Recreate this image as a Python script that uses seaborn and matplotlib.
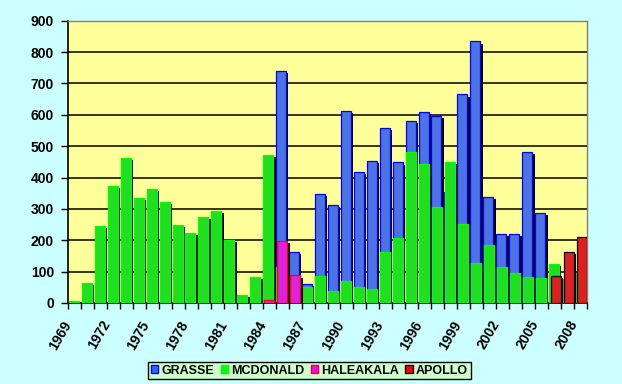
import numpy as np
import pandas as pd
import matplotlib
matplotlib.use("Agg")
import matplotlib.pyplot as plt
import matplotlib.patheffects as pe
from matplotlib.patches import Patch
import seaborn as sns

years = list(range(1969, 2009))
series_names = ["GRASSE", "MCDONALD", "HALEAKALA", "APOLLO"]

grasse = [None] * 15 + [291, 739, 162, 60, 347, 312, 612, 418, 453, 558, 448, 580,
                        609, 596, 354, 665, 834, 338, 220, 220, 481, 287, None, None, None]
mcdonald = [5, 63, 245, 373, 462, 335, 363, 322, 249, 223, 274, 293, 201, 25, 83,
            472, 116, 73, 51, 87, 38, 70, 51, 45, 163, 207, 481, 443, 306, 449,
            253, 127, 185, 115, 95, 83, 80, 124, 77, 95]
haleakala = [None] * 15 + [9, 198, 88] + [None] * 22
apollo = [None] * 37 + [86, 163, 210]

tick_years = list(range(1969, 2009, 3))

rows = []
for name, vals in zip(series_names, [grasse, mcdonald, haleakala, apollo]):
    for y, v in zip(years, vals):
        if v is not None:
            rows.append({"year": str(y), "series": name, "value": v})
df = pd.DataFrame(rows)

colors = {"GRASSE": "#3366FF", "MCDONALD": "#00FF00", "HALEAKALA": "#FF00FF", "APOLLO": "#FF0000"}
edges = {"GRASSE": "#0000FF", "MCDONALD": "#00FF00", "HALEAKALA": "#FF0000", "APOLLO": "#000000"}
shifts = {"GRASSE": -0.10, "MCDONALD": -0.06, "HALEAKALA": 0.02, "APOLLO": 0.08}

plt.rcParams["font.family"] = ["Liberation Sans", "DejaVu Sans"]
plt.rcParams["font.weight"] = "bold"

fig = plt.figure(figsize=(6.22, 3.84), dpi=100)
fig.patch.set_facecolor("#CCFFFF")
ax = fig.add_axes([68 / 622, 1 - 303 / 384, (587 - 68) / 622, (303 - 20.7) / 384])
ax.set_facecolor("#FFFF99")

sns.barplot(data=df, x="year", y="value", hue="series", order=[str(y) for y in years],
            hue_order=series_names, palette=colors, dodge=False, width=0.77,
            legend=False, ax=ax, zorder=3)

shadow = [pe.SimplePatchShadow(offset=(1.6, -1.6), shadow_rgbFace="black", alpha=1.0), pe.Normal()]
for cont, name in zip(ax.containers, series_names):
    for p in cont.patches:
        p.set_x(p.get_x() + shifts[name])
        p.set_edgecolor(edges[name])
        p.set_linewidth(0.9)
        p.set_path_effects(shadow)

ax.set_xlim(-0.5, len(years) - 0.5)
ax.set_ylim(0, 900)
ax.set_yticks(range(0, 901, 100))
ax.yaxis.grid(True, color="black", linewidth=1.1, zorder=0)
ax.set_axisbelow(True)

ax.set_xticks([years.index(y) for y in tick_years])
ax.set_xticklabels([str(y) for y in tick_years], rotation=60, ha="right", va="bottom",
                   rotation_mode="anchor", fontsize=10, fontweight="bold")
ax.tick_params(axis="x", which="major", length=0, pad=16)
ax.set_xticks(np.arange(-0.5, len(years), 1), minor=True)
ax.tick_params(axis="x", which="minor", length=4, width=1, color="black", direction="out")
ax.tick_params(axis="y", length=5, width=1, color="black", labelsize=10, pad=5)
for lbl in ax.get_yticklabels():
    lbl.set_fontweight("bold")

ax.set_xlabel("")
ax.set_ylabel("")
for side in ["top", "right"]:
    ax.spines[side].set_color("#808080")
    ax.spines[side].set_linewidth(1)
for side in ["left", "bottom"]:
    ax.spines[side].set_color("black")
    ax.spines[side].set_linewidth(1.2)

handles = [Patch(facecolor=colors[n], edgecolor=edges[n], linewidth=1) for n in series_names]
leg = fig.legend(handles, series_names, loc="center", bbox_to_anchor=(0.4976, 0.035), ncol=4,
                 frameon=True, fancybox=False, framealpha=1, edgecolor="black",
                 facecolor="#CCFFCC", handlelength=0.6, handleheight=0.6, handletextpad=0.25,
                 columnspacing=0.5, borderpad=0.2, borderaxespad=0,
                 prop={"weight": "bold", "size": 9})
leg.get_frame().set_linewidth(1)

fig.savefig("out.png", dpi=100, facecolor=fig.get_facecolor())
